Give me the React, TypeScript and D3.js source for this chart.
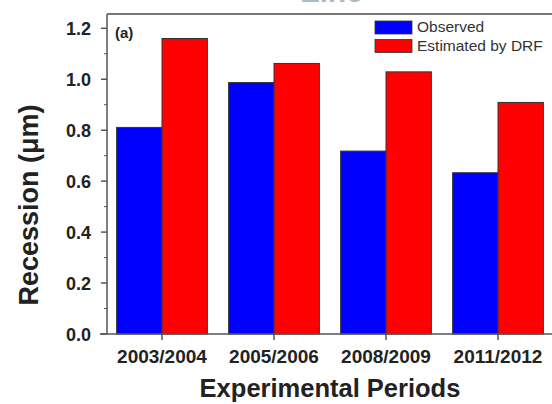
import React from "react";
import * as d3 from "d3";

const periods = ["2003/2004", "2005/2006", "2008/2009", "2011/2012"];
const seriesNames = ["Observed", "Estimated by DRF"];
const observed = [0.811, 0.987, 0.718, 0.633];
const estimated = [1.16, 1.062, 1.029, 0.909];
const seriesColors = ["#0000ff", "#ff0000"];
const yTicks = [0, 0.2, 0.4, 0.6, 0.8, 1.0, 1.2];
const yMinorTicks = [0.1, 0.3, 0.5, 0.7, 0.9, 1.1];

const W = 552;
const H = 404;
const FONT = "'Liberation Sans', Arial, sans-serif";

export default function App() {
  const x0 = d3.scaleBand<string>().domain(periods).range([106, 554]).paddingInner(0.19).paddingOuter(0.095);
  const x1 = d3.scaleBand<string>().domain(seriesNames).range([0, x0.bandwidth()]);
  const y = d3.scaleLinear().domain([0, 1.2]).range([334, 28.3]);
  const seriesValues = [observed, estimated];
  const axisColor = "#555";

  return (
    <svg width={W} height={H} style={{ position: "absolute", left: 0, top: 0, background: "#fff" }}>
      <rect x={0} y={0} width={W} height={H} fill="#fff" />
      {/* cut-off title */}
      <text x={332} y={2} textAnchor="middle" fontFamily={FONT} fontWeight="bold" fontSize={30} fill="#a9bcc6">Zinc</text>
      {/* frame top */}
      <line x1={107} x2={W} y1={14} y2={14} stroke="#777" strokeWidth={2} />
      {/* bars */}
      {periods.map((p, i) => (
        <g key={p} transform={`translate(${x0(p)},0)`}>
          {seriesNames.map((s, j) => (
            <rect
              key={s}
              x={x1(s)}
              y={y(seriesValues[j][i])}
              width={x1.bandwidth()}
              height={y(0) - y(seriesValues[j][i])}
              fill={seriesColors[j]}
              stroke="#333"
              strokeWidth={1}
            />
          ))}
        </g>
      ))}
      {/* y axis */}
      <line x1={107} x2={107} y1={14} y2={334} stroke={axisColor} strokeWidth={1.5} />
      {yTicks.map((t) => (
        <g key={t}>
          <line x1={101} x2={107} y1={y(t)} y2={y(t)} stroke={axisColor} strokeWidth={1.5} />
          <text x={91} y={y(t) + 6.5} textAnchor="end" fontFamily={FONT} fontWeight="bold" fontSize={18} fill="#222">
            {t.toFixed(1)}
          </text>
        </g>
      ))}
      {yMinorTicks.map((t) => (
        <line key={t} x1={104} x2={107} y1={y(t)} y2={y(t)} stroke={axisColor} strokeWidth={1} />
      ))}
      {/* x axis */}
      <line x1={100} x2={W} y1={334} y2={334} stroke={axisColor} strokeWidth={1.5} />
      {periods.map((p) => {
        const cx = (x0(p) as number) + x0.bandwidth() / 2;
        return (
          <g key={p}>
            <line x1={cx} x2={cx} y1={334} y2={340} stroke={axisColor} strokeWidth={1.5} />
            <text x={cx} y={363} textAnchor="middle" fontFamily={FONT} fontWeight="bold" fontSize={19} fill="#222">
              {p}
            </text>
          </g>
        );
      })}
      {/* axis titles */}
      <text x={330} y={397} textAnchor="middle" fontFamily={FONT} fontWeight="bold" fontSize={25.5} fill="#222">
        Experimental Periods
      </text>
      <text
        transform={`translate(38,205) rotate(-90)`}
        textAnchor="middle"
        fontFamily={FONT}
        fontWeight="bold"
        fontSize={27}
        fill="#222"
      >
        Recession (μm)
      </text>
      {/* panel label */}
      <text x={115} y={38} fontFamily={FONT} fontWeight="bold" fontSize={15} fill="#222">(a)</text>
      {/* legend */}
      {seriesNames.map((s, j) => (
        <g key={s}>
          <rect x={375} y={21 + j * 18.5} width={37} height={13} fill={seriesColors[j]} stroke="#333" strokeWidth={0.8} />
          <text x={417} y={32 + j * 18.5} fontFamily={FONT} fontSize={15.5} fill="#333">{s}</text>
        </g>
      ))}
    </svg>
  );
}
